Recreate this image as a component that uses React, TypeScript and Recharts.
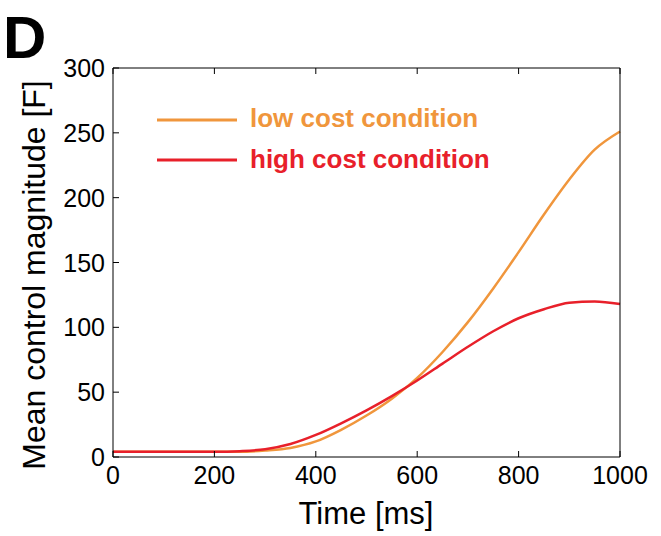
import React from "react";
import { LineChart, Line, XAxis, YAxis } from "recharts";

const times = [0, 50, 100, 150, 200, 250, 300, 350, 400, 450, 500, 550, 600, 650, 700, 750, 800, 850, 900, 950, 1000];
const lowCost = [4, 4, 4, 4, 4, 4, 5, 7, 12, 21, 32, 45, 61, 81, 104, 130, 158, 187, 214, 237, 251];
const highCost = [4, 4, 4, 4, 4, 4.5, 6, 10, 17, 26, 36, 47, 59, 72, 85, 97, 107, 114, 119, 120, 118];
const xTicks = [0, 200, 400, 600, 800, 1000];
const yTicks = [0, 50, 100, 150, 200, 250, 300];

const data = times.map((t, i) => ({ t, low: lowCost[i], high: highCost[i] }));
const ORANGE = "#f0963c";
const RED = "#e8202a";
const FONT = "'Liberation Sans', Arial, sans-serif";

const XTick = (p: any) => (
  <g>
    <line x1={p.x} x2={p.x} y1={p.y} y2={p.y - 6} stroke="#000" strokeWidth={1} />
    <text x={p.x} y={p.y + 27} textAnchor="middle" fontSize={25} fontFamily={FONT} fill="#000">{p.payload.value}</text>
  </g>
);
const XTopTick = (p: any) => (
  <line x1={p.x} x2={p.x} y1={p.y} y2={p.y + 6} stroke="#000" strokeWidth={1} />
);
const YTick = (p: any) => (
  <g>
    <line x1={p.x} x2={p.x + 6} y1={p.y} y2={p.y} stroke="#000" strokeWidth={1} />
    <text x={p.x - 8} y={p.y + 9} textAnchor="end" fontSize={25} fontFamily={FONT} fill="#000">{p.payload.value}</text>
  </g>
);
const YRightTick = (p: any) => (
  <line x1={p.x} x2={p.x - 6} y1={p.y} y2={p.y} stroke="#000" strokeWidth={1} />
);

export default function App() {
  return (
    <div style={{ position: "absolute", left: 0, top: 0, width: 661, height: 536, background: "#fff", fontFamily: FONT }}>
      <LineChart width={661} height={536} data={data} margin={{ top: 67, right: 40, bottom: 29, left: 53 }}>
        <XAxis dataKey="t" type="number" domain={[0, 1000]} ticks={xTicks} tickSize={0} tickMargin={0} tick={<XTick />} stroke="#000" height={50} />
        <XAxis xAxisId="top" orientation="top" dataKey="t" type="number" domain={[0, 1000]} ticks={xTicks} tickSize={0} tickMargin={0} tick={<XTopTick />} stroke="#000" height={1} />
        <YAxis type="number" domain={[0, 300]} ticks={yTicks} tickSize={0} tickMargin={0} tick={<YTick />} stroke="#000" width={60} />
        <YAxis yAxisId="right" orientation="right" type="number" domain={[0, 300]} ticks={yTicks} tickSize={0} tickMargin={0} tick={<YRightTick />} stroke="#000" width={1} />
        <Line dataKey="low" stroke={ORANGE} strokeWidth={2.5} dot={false} type="monotone" isAnimationActive={false} />
        <Line dataKey="high" stroke={RED} strokeWidth={2.5} dot={false} type="monotone" isAnimationActive={false} />
      </LineChart>
      <svg width={661} height={536} style={{ position: "absolute", left: 0, top: 0, pointerEvents: "none" }}>
        <text x={3} y={58} fontSize={60} fontWeight="bold" fontFamily={FONT}>D</text>
        <line x1={157} x2={237} y1={120} y2={120} stroke={ORANGE} strokeWidth={3} />
        <text x={250} y={127} fontSize={26} fontWeight="bold" fill={ORANGE} fontFamily={FONT}>low cost condition</text>
        <line x1={157} x2={237} y1={160} y2={160} stroke={RED} strokeWidth={3} />
        <text x={250} y={168} fontSize={26} fontWeight="bold" fill={RED} fontFamily={FONT}>high cost condition</text>
        <text x={366} y={524} fontSize={31} textAnchor="middle" fontFamily={FONT}>Time [ms]</text>
        <text transform="translate(45,275) rotate(-90)" fontSize={32} textAnchor="middle" fontFamily={FONT}>Mean control magnitude [F]</text>
      </svg>
    </div>
  );
}
